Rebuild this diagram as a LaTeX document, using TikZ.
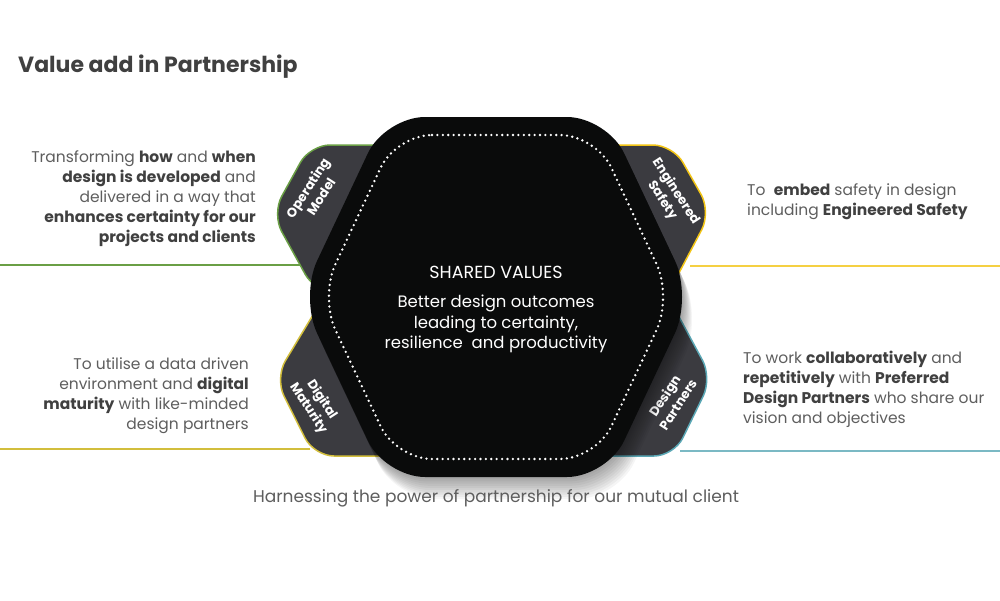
\documentclass[tikz,border=0pt]{standalone}
\usepackage{fontspec}
\setmainfont{Poppins}
\usepackage{tikz}
\usetikzlibrary{positioning}
\definecolor{hexblack}{HTML}{0A0B0B}
\definecolor{tabgray}{HTML}{3B3B40}
\definecolor{omgreen}{HTML}{6A9F45}
\definecolor{esgold}{HTML}{F2C414}
\definecolor{dmolive}{HTML}{D2BE3C}
\definecolor{dpteal}{HTML}{5AA7B5}
\definecolor{bodygray}{HTML}{5E5E5E}
\definecolor{boldgray}{HTML}{404040}
\newcommand{\bw}[1]{{\bfseries\color{boldgray}#1}}

\begin{document}
\begin{tikzpicture}[x=1pt,y=-1pt,
   tab/.style={fill=tabgray,line width=1.5pt,rounded corners=20pt},
   tablabel/.style={text=white,font=\fontsize{13}{16}\selectfont\bfseries,align=center,inner sep=0pt},
   side/.style={text=bodygray,font=\fontsize{15.5}{20}\selectfont,inner sep=0pt},
   rule/.style={line width=1.8pt}]
   \useasboundingbox[fill=white] (0,0) rectangle (1000,600);
   \node[anchor=west,text=boldgray,font=\fontsize{22}{24}\selectfont\bfseries,inner sep=0pt] (title) at (18,67) {Value add in Partnership};
   % rules out to the tabs
   \coordinate (om_l) at (0,265);   \coordinate (om_r) at (300,265);
   \coordinate (dm_l) at (0,449);   \coordinate (dm_r) at (310,449);
   \coordinate (es_l) at (690,266); \coordinate (es_r) at (1000,266);
   \coordinate (dp_l) at (680,451); \coordinate (dp_r) at (1000,451);
   \draw[rule,omgreen] (om_l) -- (om_r);
   \draw[rule,dmolive] (dm_l) -- (dm_r);
   \draw[rule,esgold!80] (es_l) -- (es_r);
   \draw[rule,dpteal!80] (dp_l) -- (dp_r);
   % tabs behind the hexagon
   \draw[tab,draw=omgreen] (420,145) -- (310,145) -- (272,214) -- (315,292) -- (420,292) -- cycle;
   \draw[tab,draw=dmolive] (430,300) -- (322,300) -- (275,378) -- (314,456) -- (430,456) -- cycle;
   \draw[tab,draw=esgold] (570,145) -- (673,145) -- (711,212) -- (670,290) -- (570,290) -- cycle;
   \draw[tab,draw=dpteal] (560,300) -- (670,300) -- (712,378) -- (674,456) -- (560,456) -- cycle;
   \node[tablabel,rotate=57] (om) at (314,192) {Operating\\Model};
   \node[tablabel,rotate=-57] (es) at (669,196) {Engineered\\Safety};
   \node[tablabel,rotate=-57] (dm) at (315,404) {Digital\\Maturity};
   \node[tablabel,rotate=57] (dp) at (671,400) {Design\\Partners};
   % soft shadow
   \foreach \s in {1,...,10}
      \fill[black,opacity=0.04,rounded corners=40pt,shift={(\s*1.0,\s*2.2)}]
         (385,117) -- (607,117) -- (692,297) -- (607,477) -- (385,477) -- (300,297) -- cycle;
   % shared values hexagon
   \fill[hexblack,rounded corners=40pt] (385,117) -- (607,117) -- (692,297) -- (607,477) -- (385,477) -- (300,297) -- cycle;
   \draw[white,line width=2.6pt,line cap=round,dash pattern=on 0pt off 5.4pt,rounded corners=36pt]
      (396,135) -- (596,135) -- (672,297) -- (596,459) -- (396,459) -- (320,297) -- cycle;
   \node[text=white,font=\fontsize{17.5}{20}\selectfont,inner sep=0pt] (sv) at (496,272) {SHARED VALUES};
   \node[text=white,font=\fontsize{16.5}{20.7}\selectfont,align=center,inner sep=0pt] (sv_txt) at (496,324)
      {Better design outcomes\\leading to certainty,\\resilience\ \ and productivity};
   % statements
   \node[side,align=right,anchor=east] (om_txt) at (256,199)
      {Transforming \bw{how} and \bw{when}\\\bw{design is developed} and\\delivered in a way that\\\bw{enhances certainty for our}\\\bw{projects and clients}};
   \node[side,align=right,anchor=east] (dm_txt) at (249,396)
      {To utilise a data driven\\environment and \bw{digital}\\\bw{maturity} with like-minded\\design partners};
   \node[side,align=left,anchor=west] (es_txt) at (747,202)
      {To\ \ \bw{embed} safety in design\\including \bw{Engineered Safety}};
   \node[side,align=left,anchor=west] (dp_txt) at (743,389)
      {To work \bw{collaboratively} and\\\bw{repetitively} with \bw{Preferred}\\\bw{Design Partners} who share our\\vision and objectives};
   \node[side,font=\fontsize{17}{20}\selectfont] (caption) at (496,498) {Harnessing the power of partnership for our mutual client};
\end{tikzpicture}
\end{document}
